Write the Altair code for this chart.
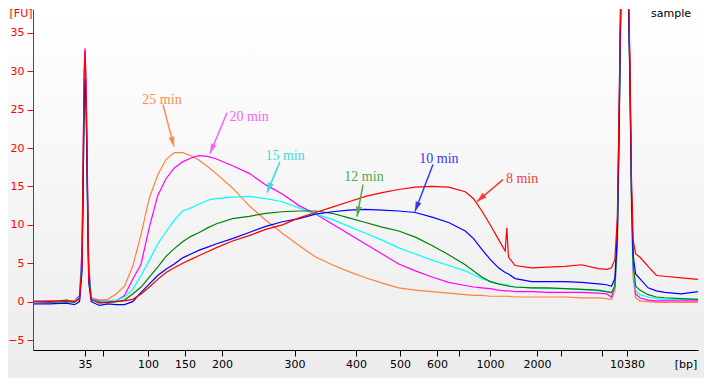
import math
import altair as alt
import pandas as pd

# ---- data (migration time in s, fluorescence in FU) ----
time_s = [38, 40, 42, 43,
          43.6, 43.9, 44.05, 44.15, 44.26, 44.4, 44.55, 44.7,
          45, 46, 47, 48, 49,
          50, 51, 52, 53, 54, 55, 56, 57, 58, 59, 60,
          62, 64, 66, 68, 70, 72, 74, 76, 78, 80, 82, 84, 86, 88, 90,
          91, 92, 93, 94,
          94.8, 95.0, 95.2,
          96, 98, 100, 102, 104, 106,
          107, 107.6,
          108, 108.3, 108.5, 108.7, 108.9, 109.2, 109.5, 109.8,
          110.0, 110.2, 110.5,
          111, 112, 113, 114, 116, 118]

red_8 = [0.0, 0.0, 0.2, 0.0,
         0.3, 5, 20, 29, 32.7, 27, 15, 3,
         0.3, -0.1, -0.1, 0.0, 0.1,
         0.3, 1.0, 1.9, 2.9, 3.8, 4.4, 5.0, 5.5, 6.0, 6.5, 7.0,
         7.9, 8.6, 9.4, 10.0, 10.9, 11.6, 12.3, 13.0, 13.7, 14.2, 14.6, 14.9, 15.0, 14.9, 14.3,
         13.4, 11.8, 10.0, 8.1,
         6.6, 9.6, 5.8,
         4.7, 4.4, 4.5, 4.6, 4.8, 4.3,
         4.2, 4.4,
         5.5, 11, 25, 40, 48, 50, 48, 32,
         16, 8, 6.2,
         5.8, 4.6, 3.4, 3.3, 3.1, 2.9]

blue_10 = [-0.3, -0.3, -0.2, -0.4,
           0.0, 4, 16, 26, 29, 25, 13, 2.5,
           0.0, -0.5, -0.3, -0.4, -0.4,
           0.0, 1.2, 2.3, 3.4, 4.2, 4.9, 5.7, 6.2, 6.7, 7.1, 7.5,
           8.2, 9.0, 9.8, 10.4, 10.8, 11.4, 11.7, 11.9, 12.0, 11.9, 11.8, 11.6, 11.0, 10.3, 9.2,
           8.2, 6.8, 5.5, 4.4,
           3.8, 3.7, 3.6,
           3.0, 2.6, 2.6, 2.6, 2.5, 2.3,
           2.2, 2.0,
           3, 9, 22, 38, 46, 48, 46, 30,
           14, 6, 3.6,
           3.0, 1.8, 1.4, 1.2, 1.0, 1.3]

green_12 = [0.0, -0.1, 0.0, -0.1,
            0.5, 5, 17, 26, 29, 25, 14, 4,
            0.3, -0.2, -0.1, 0.0, 0.2,
            1.0, 1.9, 3.2, 4.5, 5.9, 6.9, 7.8, 8.5, 9.0, 9.6, 10.1,
            10.8, 11.1, 11.5, 11.7, 11.8, 11.8, 11.5, 10.9, 10.3, 9.7, 9.2, 8.4, 7.3, 6.1, 4.8,
            4.0, 3.2, 2.6, 2.3,
            2.1, 2.1, 2.0,
            1.9, 1.8, 1.8, 1.7, 1.6, 1.5,
            1.3, 1.2,
            2, 8, 22, 38, 46, 48, 46, 30,
            14, 5, 2.0,
            1.5, 0.9, 0.6, 0.5, 0.4, 0.3]

cyan_15 = [0.1, 0.0, 0.1, 0.0,
           0.6, 6, 18, 27, 30, 26, 15, 4,
           0.5, 0.0, 0.1, 0.2, 0.6,
           1.6, 3.4, 5.4, 7.5, 9.1, 10.6, 11.8, 12.2, 12.7, 13.2, 13.4,
           13.6, 13.7, 13.4, 13.0, 12.2, 11.4, 10.7, 9.8, 8.9, 8.0, 7.0, 6.2, 5.4, 4.7, 4.0,
           3.5, 3.0, 2.6, 2.3,
           2.2, 2.2, 2.1,
           1.9, 1.8, 1.7, 1.7, 1.6, 1.4,
           1.3, 1.1,
           2, 8, 21, 37, 46, 48, 46, 30,
           13, 4, 1.5,
           0.9, 0.6, 0.4, 0.3, 0.3, 0.3]

magenta_20 = [0.1, 0.1, 0.0, 0.1,
              0.8, 7, 20, 30, 33, 28, 16, 5,
              0.5, 0.1, 0.0, 0.1, 0.8,
              2.9, 4.9, 9.7, 13.8, 16.0, 17.4, 18.2, 18.7, 19.0, 18.9, 18.6,
              17.7, 16.7, 15.2, 14.0, 12.5, 11.4, 10.1, 8.8, 7.5, 6.2, 4.9, 4.0, 3.2, 2.5, 2.1,
              1.9, 1.8, 1.7, 1.5,
              1.4, 1.4, 1.4,
              1.3, 1.3, 1.2, 1.2, 1.2, 1.1,
              1.0, 0.6,
              2, 10, 24, 40, 48, 50, 48, 31,
              14, 4, 1.0,
              0.5, 0.2, 0.1, 0.1, 0.1, 0.1]

orange_25 = [0.1, 0.1, 0.1, 0.0,
             0.5, 6, 19, 28, 31, 27, 15, 4,
             0.5, 0.2, 0.3, 1.0, 2.0,
             4.6, 8.8, 13.5, 16.5, 18.5, 19.4, 19.4, 19.0, 18.4, 17.6, 16.7,
             14.8, 12.5, 10.6, 8.9, 7.3, 5.8, 4.8, 3.9, 3.1, 2.4, 1.8, 1.5, 1.3, 1.1, 0.9,
             0.8, 0.8, 0.7, 0.7,
             0.7, 0.7, 0.7,
             0.6, 0.6, 0.6, 0.6, 0.5, 0.5,
             0.4, 0.3,
             1.5, 7, 20, 36, 45, 48, 45, 29,
             12, 3, 0.5,
             0.1, 0.0, -0.1, -0.1, -0.1, -0.1]

series_names = ["25 min", "20 min", "15 min", "12 min", "10 min", "8 min"]
series_values = [orange_25, magenta_20, cyan_15, green_12, blue_10, red_8]
series_colors = ["#ff8040", "#ff00ff", "#00ffff", "#008000", "#0000ff", "#ff0000"]

# ladder (x axis) : bp size and migration time
ladder_bp = [35, 50, 100, 150, 200, 300, 400, 500, 600, 700, 1000, 2000, 3000, 7000, 10380]
ladder_time = [44.26, 46.42, 51.83, 56.29, 60.74, 69.46, 76.86, 82.15, 86.60, 89.25,
               92.98, 98.63, 101.52, 106.45, 109.46]
ladder_shown = [True, False, True, True, True, True, True, True, True, False,
                True, True, False, False, True]
fu_ticks = [-5, 0, 5, 10, 15, 20, 25, 30, 35]

# annotations
ann_labels = ["25 min", "20 min", "15 min", "12 min", "10 min", "8 min"]
ann_colors = ["#ff8a50", "#f566f5", "#3cdcdc", "#4fa84f", "#3838f5", "#f53c3c"]
ann_text_t = [53.52, 63.99, 68.32, 77.82, 86.84, 96.83]
ann_text_fu = [26.3, 24.09, 19.01, 16.28, 18.62, 16.02]
ann_tail_t = [53.64, 61.34, 67.71, 77.70, 86.12, 94.54]
ann_tail_fu = [25.65, 24.6, 18.23, 15.23, 17.84, 15.89]
ann_head_t = [54.96, 59.29, 66.15, 76.98, 83.95, 91.41]
ann_head_fu = [20.18, 19.27, 14.19, 11.07, 11.72, 13.02]

# ---- layout ----
W, H = 665, 341
X_DOM = [38, 118]
Y_DOM = [-6.3, 38.1]
kx = W / (X_DOM[1] - X_DOM[0])
ky = H / (Y_DOM[1] - Y_DOM[0])

rows = []
for name, vals in zip(series_names, series_values):
    assert len(vals) == len(time_s), name
    for t, v in zip(time_s, vals):
        rows.append({"series": name, "time": t, "fu": v})
df = pd.DataFrame(rows)

ann_rows = []
for i in range(len(ann_labels)):
    dx = (ann_head_t[i] - ann_tail_t[i]) * kx
    dyu = (ann_head_fu[i] - ann_tail_fu[i]) * ky
    ang = math.degrees(math.atan2(dx, dyu)) % 360
    ann_rows.append({"label": ann_labels[i], "color": ann_colors[i],
                     "tx": ann_text_t[i], "ty": ann_text_fu[i],
                     "t0": ann_tail_t[i], "f0": ann_tail_fu[i],
                     "t1": ann_head_t[i], "f1": ann_head_fu[i], "angle": ang})
ann = pd.DataFrame(ann_rows)

lab_arr = "[" + ",".join("'%s'" % (str(b) if s else "") for b, s in zip(ladder_bp, ladder_shown)) + "]"
pos_arr = "[" + ",".join(str(t) for t in ladder_time) + "]"
label_expr = f"{lab_arr}[indexof({pos_arr}, datum.value)]"

x_scale = alt.Scale(domain=X_DOM, nice=False, zero=False)
y_scale = alt.Scale(domain=Y_DOM, nice=False, zero=False)

x_axis = alt.Axis(values=ladder_time, labelExpr=label_expr, title=None, grid=False,
                  domainColor="#000000", tickColor="#000000", tickSize=6,
                  labelColor="#000000", labelPadding=2, labelOverlap=False,
                  labelFlush=False, labelFont="DejaVu Sans", labelFontSize=11, zindex=1)
y_axis = alt.Axis(values=fu_ticks, title=None, grid=False,
                  domainColor="#ff0000", tickColor="#ff0000", tickSize=6,
                  labelColor="#ff0000", labelPadding=3,
                  labelFont="DejaVu Sans", labelFontSize=11, zindex=1)

one = pd.DataFrame({"k": [0]})

bg = alt.Chart(one).mark_rect(
    color=alt.LinearGradient(gradient="linear", x1=0, y1=0, x2=0, y2=1,
                             stops=[alt.GradientStop(offset=0, color="#ffffff"),
                                    alt.GradientStop(offset=1, color="#ececec")]),
    clip=False,
).encode(x=alt.value(-25), x2=alt.value(671), y=alt.value(-1), y2=alt.value(369))

lines = alt.Chart(df).mark_line(clip=True, strokeWidth=1.2).encode(
    x=alt.X("time:Q", scale=x_scale, axis=x_axis),
    y=alt.Y("fu:Q", scale=y_scale, axis=y_axis),
    color=alt.Color("series:N", scale=alt.Scale(domain=series_names, range=series_colors), legend=None),
)

rules = alt.Chart(ann).mark_rule(strokeWidth=1.5).encode(
    x=alt.X("t0:Q", scale=x_scale), y=alt.Y("f0:Q", scale=y_scale),
    x2="t1:Q", y2="f1:Q",
    color=alt.Color("color:N", scale=None),
)

heads = alt.Chart(ann).mark_point(
    shape="M0,0 L0.6,2 L-0.6,2 Z", filled=True, size=100, opacity=1,
).encode(
    x=alt.X("t1:Q", scale=x_scale), y=alt.Y("f1:Q", scale=y_scale),
    angle=alt.Angle("angle:Q", scale=None),
    color=alt.Color("color:N", scale=None),
)

texts = alt.Chart(ann).mark_text(font="Liberation Serif", fontSize=14,
                                 align="center", baseline="middle").encode(
    x=alt.X("tx:Q", scale=x_scale), y=alt.Y("ty:Q", scale=y_scale),
    text="label:N",
    color=alt.Color("color:N", scale=None),
)

fu_title = alt.Chart(one).mark_text(text="[FU]", font="DejaVu Sans", fontSize=11,
                                    color="#ff0000", align="center", baseline="top").encode(
    x=alt.value(-12), y=alt.value(-1))
sample_t = alt.Chart(one).mark_text(text="sample", font="DejaVu Sans", fontSize=11,
                                    color="#000000", align="center", baseline="top").encode(
    x=alt.value(638), y=alt.value(-1))
bp_title = alt.Chart(one).mark_text(text="[bp]", font="DejaVu Sans", fontSize=11,
                                    color="#000000", align="center", baseline="top").encode(
    x=alt.value(653), y=alt.value(350))

chart = alt.layer(bg, lines, rules, heads, texts, fu_title, sample_t, bp_title).properties(
    width=W, height=H,
    autosize=alt.AutoSizeParams(type="none"),
    padding={"left": 25, "top": 1, "right": 6, "bottom": 28},
    background="#f0f0f0",
).configure_view(stroke=None)

chart.save("out.html", embed_options={"renderer": "svg", "actions": False})
